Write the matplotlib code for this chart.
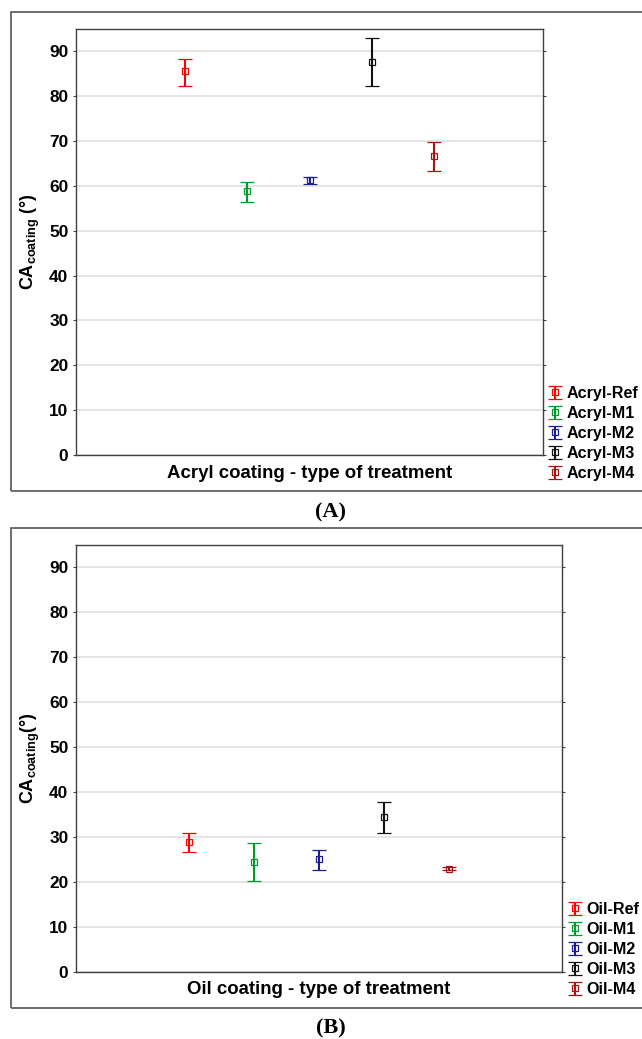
import matplotlib
matplotlib.use("Agg")
import matplotlib.pyplot as plt
from matplotlib.patches import Rectangle
from matplotlib.legend_handler import HandlerErrorbar

# ── DATA ──────────────────────────────────────────────────────────────────────
acryl_labels = ["Acryl-Ref", "Acryl-M1", "Acryl-M2", "Acryl-M3", "Acryl-M4"]
acryl_mean = [85.6, 58.8, 61.3, 87.7, 66.7]
acryl_low = [82.4, 56.5, 60.5, 82.3, 63.4]
acryl_high = [88.3, 60.9, 61.9, 93.1, 69.8]

oil_labels = ["Oil-Ref", "Oil-M1", "Oil-M2", "Oil-M3", "Oil-M4"]
oil_mean = [28.9, 24.4, 25.1, 34.4, 23.0]
oil_low = [26.6, 20.3, 22.6, 31.0, 22.6]
oil_high = [31.0, 28.6, 27.2, 37.9, 23.4]

colors = ["#ff0000", "#009a2e", "#1c1c96", "#111111", "#a81414"]

plt.rcParams["font.family"] = ["Liberation Sans", "DejaVu Sans"]
plt.rcParams["font.weight"] = "bold"
plt.rcParams["mathtext.fontset"] = "custom"
plt.rcParams["mathtext.rm"] = "Liberation Sans:bold"
plt.rcParams["mathtext.it"] = "Liberation Sans:bold"
plt.rcParams["mathtext.bf"] = "Liberation Sans:bold"
plt.rcParams["mathtext.default"] = "rm"

W, H = 642, 1039
fig = plt.figure(figsize=(W / 100, H / 100), dpi=100)
fig.patch.set_facecolor("white")


def px_box(x0, y0, x1, y1):
    """pixel box (top-left origin) -> figure fraction [l, b, w, h]"""
    return [x0 / W, 1 - y1 / H, (x1 - x0) / W, (y1 - y0) / H]


def draw_panel(axbox, frame, labels, mean, low, high, xlabel, ylabel,
               leg_xy, tag, tag_y):
    # outer frame (right edge runs off the image)
    fx0, fy0, fy1 = frame
    fig.patches.append(Rectangle((fx0 / W, 1 - fy1 / H), 1.2, (fy1 - fy0) / H,
                                 transform=fig.transFigure, fill=False,
                                 edgecolor="#555555", lw=1.2))
    ax = fig.add_axes(px_box(*axbox))
    ax_w = axbox[2] - axbox[0]
    ax_h = axbox[3] - axbox[1]
    handles = []
    for i, (lab, m, lo, hi) in enumerate(zip(labels, mean, low, high)):
        h = ax.errorbar(i + 1, m, yerr=[[m - lo], [hi - m]], fmt="s",
                        color=colors[i], mfc="none", mec=colors[i], ms=5,
                        mew=0.9, elinewidth=1.5, capsize=5.3, capthick=1.5,
                        label=lab, zorder=3)
        handles.append(h)
    ax.set_xlim(-0.75, 6.75)
    ax.set_ylim(0, 95)
    ax.set_yticks(range(0, 91, 10))
    ax.set_xticks([])
    ax.grid(axis="y", color="#e0e0e0", lw=1.2, zorder=0)
    ax.set_axisbelow(True)
    for s in ax.spines.values():
        s.set_color("#404040")
        s.set_linewidth(1.0)
    ax.tick_params(axis="y", labelsize=12.4, direction="out", length=2.5,
                   width=0.8, color="#404040", pad=3)
    ax.tick_params(axis="y", which="major", right=True)
    for t in ax.get_yticklabels():
        t.set_fontweight("bold")
    ax.set_xlabel(xlabel, fontsize=13.4, fontweight="bold")
    ax.xaxis.set_label_coords(0.5, -18 / ax_h)
    ax.xaxis.label.set_va("center")
    ax.set_ylabel(ylabel, fontsize=13, fontweight="bold")
    ax.yaxis.set_label_coords((30 - axbox[0]) / ax_w, 0.5)
    ax.yaxis.label.set_va("center")
    fig.legend(handles=handles, loc="upper left",
               bbox_to_anchor=(leg_xy[0] / W, 1 - leg_xy[1] / H),
               frameon=False, fontsize=11.6, handlelength=0.8,
               handletextpad=0.3, labelspacing=0.31, borderpad=0,
               borderaxespad=0,
               handler_map={type(handles[0]): HandlerErrorbar(yerr_size=0.4)})
    fig.text(331 / W, 1 - tag_y / H, tag, ha="center", va="center",
             fontsize=16, fontweight="bold", family="Liberation Serif")
    return ax


draw_panel((76, 29, 543, 455), (11, 12, 491), acryl_labels, acryl_mean,
           acryl_low, acryl_high, "Acryl coating - type of treatment",
           "CA$_{coating}$ (°)", (549, 386), "(A)", 512)
draw_panel((76, 545, 562, 972), (11, 528, 1008), oil_labels, oil_mean,
           oil_low, oil_high, "Oil coating - type of treatment",
           "CA$_{coating}$(°)", (569, 902), "(B)", 1028)

fig.savefig("out.png", dpi=100, facecolor="white")
